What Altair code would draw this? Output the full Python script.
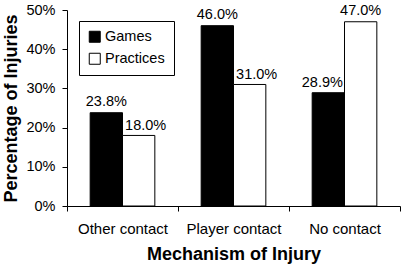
import altair as alt
import pandas as pd

categories = ["Other contact", "Player contact", "No contact"]
series = ["Games", "Practices"]
games = [23.8, 46.0, 28.9]
practices = [18.0, 31.0, 47.0]
y_ticks = [0, 10, 20, 30, 40, 50]

rows = []
for c, g, p in zip(categories, games, practices):
    rows.append({"mechanism": c, "session": "Games", "pct": g})
    rows.append({"mechanism": c, "session": "Practices", "pct": p})
df = pd.DataFrame(rows)

FONT = "Liberation Sans"

base = (
    alt.Chart(df)
    .transform_joinaggregate(maxpct="max(pct)", groupby=["mechanism"])
    .transform_calculate(label="format(datum.pct, '.1f') + '%'")
)

x = alt.X(
    "mechanism:N",
    sort=categories,
    scale=alt.Scale(paddingInner=0, paddingOuter=0),
    axis=alt.Axis(
        title="Mechanism of Injury",
        labelAngle=0,
        tickBand="extent",
        tickSize=5,
        labelPadding=10,
        titlePadding=9,
        labelFont=FONT,
        labelFontSize=15,
        titleFont=FONT,
        titleFontSize=18,
        titleFontWeight="bold",
        labelColor="black",
        titleColor="black",
        domainColor="black",
        tickColor="black",
    ),
)
xo = alt.XOffset(
    "session:N", sort=series, scale=alt.Scale(paddingInner=0, paddingOuter=0.716)
)
y = alt.Y(
    "pct:Q",
    scale=alt.Scale(domain=[0, 50]),
    axis=alt.Axis(
        values=y_ticks,
        labelExpr="datum.value + '%'",
        title="Percentage of Injuries",
        grid=False,
        tickSize=5,
        labelPadding=7,
        titlePadding=5,
        labelFont=FONT,
        labelFontSize=14.5,
        titleFont=FONT,
        titleFontSize=18,
        titleFontWeight="bold",
        labelColor="black",
        titleColor="black",
        domainColor="black",
        tickColor="black",
    ),
)
color = alt.Color(
    "session:N",
    sort=series,
    scale=alt.Scale(domain=series, range=["black", "white"]),
    legend=alt.Legend(
        title=None,
        orient="none",
        legendX=12,
        legendY=11,
        direction="vertical",
        padding=8.5,
        strokeColor="black",
        fillColor="white",
        symbolType="square",
        symbolSize=121,
        symbolStrokeColor="black",
        symbolStrokeWidth=1,
        labelFont=FONT,
        labelFontSize=14.5,
        labelColor="black",
        rowPadding=6,
        labelOffset=3,
    ),
)

bars = base.mark_bar(stroke="black", strokeWidth=1).encode(
    x=x, xOffset=xo, y=y, color=color
)

text_kw = dict(font=FONT, fontSize=14.5, color="black")
enc = dict(x=x, xOffset=xo, y=y, text="label:N")

lab_main = (
    base.transform_filter("datum.pct >= datum.maxpct")
    .mark_text(dy=-11, **text_kw)
    .encode(**enc)
)
lab_g = (
    base.transform_filter("datum.pct < datum.maxpct && datum.session == 'Games'")
    .mark_text(dy=-10, dx=-6, **text_kw)
    .encode(**enc)
)
lab_p = (
    base.transform_filter("datum.pct < datum.maxpct && datum.session == 'Practices'")
    .mark_text(dy=-9, dx=7, **text_kw)
    .encode(**enc)
)

chart = (
    alt.layer(bars, lab_main, lab_g, lab_p)
    .properties(
        width=333,
        height=196,
        autosize=alt.AutoSizeParams(type="none"),
        padding={"left": 67, "top": 10, "right": 1, "bottom": 60},
        background="white",
    )
    .configure_view(strokeWidth=0)
)

chart.save("out.html", embed_options={"renderer": "svg", "actions": False})
